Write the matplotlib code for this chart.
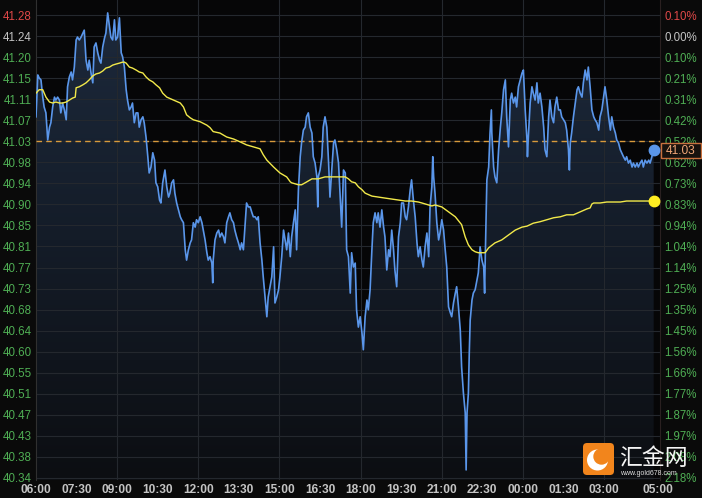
import numpy as np
import matplotlib
matplotlib.use("Agg")
import matplotlib.pyplot as plt
from matplotlib.patches import FancyBboxPatch, Circle, Polygon
from matplotlib.colors import LinearSegmentedColormap

# ---------------- data ----------------
prev_close = 41.24
tick_step = 0.04273

price_labels = ["41.28", "41.24", "41.20", "41.15", "41.11", "41.07", "41.03", "40.98",
                "40.94", "40.90", "40.85", "40.81", "40.77", "40.73", "40.68", "40.64",
                "40.60", "40.55", "40.51", "40.47", "40.43", "40.38", "40.34"]
pct_labels = ["0.10%", "0.00%", "0.10%", "0.21%", "0.31%", "0.42%", "0.52%", "0.62%",
              "0.73%", "0.83%", "0.94%", "1.04%", "1.14%", "1.25%", "1.35%", "1.45%",
              "1.56%", "1.66%", "1.77%", "1.87%", "1.97%", "2.08%", "2.18%"]
time_labels = ["06:00", "07:30", "09:00", "10:30", "12:00", "13:30", "15:00", "16:30",
               "18:00", "19:30", "21:00", "22:30", "00:00", "01:30", "03:00", "05:00"]
time_ticks = [0, 90, 180, 270, 360, 450, 540, 630, 720, 810, 900, 990, 1080, 1170, 1260, 1380]
grid_times = [180, 360, 540, 720, 900, 1080, 1260]

last_price_label = "41.03"
dashed_level = 41.0264

# (minutes after 06:00, price)
price_points = [
    (0, 41.076), (4, 41.161), (7, 41.155), (11, 41.151), (15, 41.116), (18, 41.096), (22, 41.084),
    (26, 41.029), (30, 41.055), (33, 41.064), (37, 41.096), (41, 41.116), (44, 41.110), (48, 41.116),
    (52, 41.110), (55, 41.084), (59, 41.104), (63, 41.090), (67, 41.070), (70, 41.137), (74, 41.157),
    (78, 41.167), (81, 41.151), (85, 41.177), (89, 41.232), (92, 41.238), (96, 41.232), (100, 41.238),
    (104, 41.246), (107, 41.252), (111, 41.191), (115, 41.171), (118, 41.191), (122, 41.165),
    (126, 41.145), (129, 41.218), (133, 41.226), (137, 41.206), (141, 41.191), (144, 41.185),
    (148, 41.218), (152, 41.236), (155, 41.246), (159, 41.287), (163, 41.258), (166, 41.238),
    (170, 41.232), (174, 41.273), (177, 41.232), (181, 41.238), (185, 41.277), (189, 41.206),
    (192, 41.198), (196, 41.177), (200, 41.131), (203, 41.110), (207, 41.090), (211, 41.096),
    (214, 41.104), (218, 41.064), (222, 41.084), (226, 41.084), (229, 41.055), (233, 41.070),
    (237, 41.076), (240, 41.064), (244, 41.035), (248, 40.995), (251, 40.962), (255, 40.974),
    (259, 41.003), (263, 40.988), (266, 40.942), (270, 40.934), (274, 40.907), (277, 40.901),
    (281, 40.942),
    (286, 40.968), (290, 40.934), (294, 40.913), (297, 40.921), (301, 40.942), (305, 40.948),
    (308, 40.921), (312, 40.901), (316, 40.887), (320, 40.873), (323, 40.867), (327, 40.861),
    (331, 40.806), (334, 40.785), (338, 40.806), (342, 40.820), (345, 40.826), (349, 40.861),
    (353, 40.852), (356, 40.867), (360, 40.861), (364, 40.873), (368, 40.861), (371, 40.846),
    (375, 40.826), (379, 40.800), (382, 40.785), (386, 40.792), (390, 40.779), (392, 40.739),
    (393, 40.785), (397, 40.826), (401, 40.840), (405, 40.846), (408, 40.832), (412, 40.840),
    (416, 40.832), (419, 40.820), (423, 40.861), (427, 40.873), (430, 40.881), (434, 40.867),
    (438, 40.861), (441, 40.846), (445, 40.832), (449, 40.820), (453, 40.806), (456, 40.820),
    (460, 40.806), (464, 40.861), (467, 40.901), (471, 40.893), (475, 40.893), (479, 40.881),
    (482, 40.873), (486, 40.873), (490, 40.867), (493, 40.873), (497, 40.820), (501, 40.785),
    (504, 40.751), (508, 40.710), (512, 40.670), (515, 40.710), (519, 40.731), (523, 40.751),
    (527, 40.812), (530, 40.698), (534, 40.710), (538, 40.725), (541, 40.751), (545, 40.792),
    (549, 40.846),
    (556, 40.806), (560, 40.840), (564, 40.792), (567, 40.832), (571, 40.861), (575, 40.887),
    (578, 40.806), (582, 40.928), (586, 40.995), (589, 41.023), (593, 41.049), (597, 41.055),
    (600, 41.076), (604, 41.084), (608, 41.055), (612, 41.043), (615, 40.995), (619, 40.982),
    (623, 40.954), (625, 40.893), (626, 40.954), (630, 40.968), (634, 40.995), (637, 41.055),
    (641, 41.076), (645, 41.055), (649, 40.982), (652, 40.913), (656, 40.968), (660, 41.023),
    (663, 41.029), (667, 41.009), (671, 40.982), (674, 40.928), (678, 40.852), (682, 40.968),
    (686, 40.962), (689, 40.806), (693, 40.792), (697, 40.718), (700, 40.800), (704, 40.771),
    (708, 40.779), (711, 40.684), (715, 40.649), (719, 40.670), (723, 40.637), (726, 40.603),
    (730, 40.670), (734, 40.704), (737, 40.684), (741, 40.725), (745, 40.806), (748, 40.861),
    (752, 40.881), (756, 40.861), (759, 40.881), (763, 40.852), (767, 40.887), (771, 40.852),
    (774, 40.832), (778, 40.765), (782, 40.806), (785, 40.792), (789, 40.846), (793, 40.806),
    (796, 40.765), (800, 40.731), (804, 40.832), (808, 40.861), (811, 40.901), (815, 40.901),
    (819, 40.873), (822, 40.867), (826, 40.893), (830, 40.928), (833, 40.948), (837, 40.907),
    (841, 40.873), (845, 40.820), (848, 40.792),
    (852, 40.812), (856, 40.785), (859, 40.771), (863, 40.812), (867, 40.840), (871, 40.792),
    (874, 40.893), (878, 40.934), (880, 40.995), (882, 40.954), (885, 40.921), (889, 40.861),
    (893, 40.826), (896, 40.840), (900, 40.867), (904, 40.846), (907, 40.812), (911, 40.771),
    (915, 40.690), (919, 40.678), (922, 40.670), (926, 40.698), (930, 40.718), (933, 40.731),
    (937, 40.690), (941, 40.643), (944, 40.568), (948, 40.515), (952, 40.475), (954, 40.359),
    (956, 40.475), (959, 40.515), (961, 40.597), (963, 40.663), (967, 40.704), (970, 40.718),
    (974, 40.725), (978, 40.745), (981, 40.759), (985, 40.812), (989, 40.785), (993, 40.771),
    (995, 40.718), (996, 40.771), (1000, 40.948), (1004, 40.974), (1007, 41.043), (1010, 41.090),
    (1011, 41.043), (1015, 40.974), (1018, 40.954), (1022, 40.942), (1026, 41.009), (1030, 41.055),
    (1033, 41.084), (1037, 41.131), (1041, 41.151), (1044, 41.076), (1048, 41.015), (1052, 41.110),
    (1055, 41.124), (1059, 41.104), (1063, 41.116), (1066, 41.096), (1070, 41.137), (1074, 41.151),
    (1078, 41.165), (1081, 41.171),
    (1085, 41.090), (1089, 41.029), (1090, 40.995), (1092, 41.035), (1096, 41.104), (1100, 41.137),
    (1103, 41.124), (1107, 41.110), (1111, 41.145), (1114, 41.104), (1118, 41.124), (1122, 41.096),
    (1126, 41.055), (1129, 41.009), (1133, 40.995), (1137, 41.076), (1140, 41.110), (1144, 41.076),
    (1148, 41.064), (1151, 41.096), (1155, 41.116), (1159, 41.090), (1163, 41.090), (1166, 41.076),
    (1170, 41.070), (1174, 41.064), (1177, 41.049), (1181, 41.009), (1183, 40.968), (1185, 41.023),
    (1188, 41.043), (1192, 41.076), (1196, 41.104), (1200, 41.131), (1203, 41.137), (1207, 41.124),
    (1211, 41.116), (1214, 41.145), (1218, 41.171), (1222, 41.151), (1225, 41.177), (1229, 41.137),
    (1233, 41.090), (1237, 41.076), (1240, 41.070), (1244, 41.064), (1248, 41.049), (1251, 41.076),
    (1255, 41.090), (1259, 41.116), (1262, 41.137), (1266, 41.110), (1270, 41.076), (1274, 41.049),
    (1277, 41.076), (1281, 41.055), (1285, 41.043), (1288, 41.029), (1292, 41.023), (1296, 41.009),
    (1299, 41.003), (1303, 40.995), (1307, 40.988), (1310, 40.995), (1314, 40.982), (1318, 40.988),
    (1322, 40.974), (1325, 40.982), (1329, 40.974), (1333, 40.982), (1336, 40.974), (1340, 40.982),
    (1344, 40.988), (1347, 40.974), (1351, 40.988), (1355, 40.982), (1359, 40.988), (1362, 40.982),
    (1366, 40.995), (1370, 41.009),
]

avg_points = [
    (0, 41.124), (7, 41.131), (15, 41.131), (22, 41.116), (30, 41.106), (37, 41.104), (44, 41.106),
    (52, 41.104), (59, 41.104), (67, 41.106), (74, 41.110), (81, 41.114), (87, 41.116), (89, 41.135),
    (96, 41.137), (104, 41.141), (111, 41.145), (118, 41.151), (126, 41.159), (133, 41.163),
    (141, 41.165), (148, 41.169), (155, 41.175), (163, 41.177), (170, 41.181), (177, 41.183),
    (185, 41.185), (192, 41.187), (196, 41.187), (200, 41.185), (207, 41.177), (214, 41.175),
    (222, 41.171), (229, 41.167), (237, 41.165), (244, 41.157), (251, 41.151), (259, 41.147),
    (266, 41.141), (274, 41.135), (281, 41.124), (290, 41.116), (305, 41.110), (320, 41.104),
    (327, 41.096), (334, 41.080), (342, 41.074), (349, 41.070), (364, 41.066), (379, 41.059),
    (386, 41.054), (393, 41.046), (408, 41.043), (423, 41.035), (438, 41.031), (453, 41.025),
    (467, 41.019), (482, 41.015), (497, 41.011), (504, 40.999), (512, 40.988), (527, 40.974),
    (541, 40.962), (556, 40.954), (564, 40.944), (567, 40.942), (582, 40.938), (589, 40.938),
    (597, 40.942), (612, 40.950), (626, 40.950), (641, 40.954), (656, 40.954), (671, 40.954),
    (686, 40.954), (693, 40.950), (700, 40.944), (708, 40.942), (715, 40.934), (723, 40.928),
    (730, 40.921), (745, 40.915), (759, 40.913), (774, 40.911), (789, 40.909), (804, 40.907),
    (819, 40.905), (833, 40.905), (848, 40.903), (856, 40.901), (871, 40.897), (878, 40.895),
    (885, 40.897), (900, 40.893), (915, 40.883), (930, 40.873), (944, 40.857), (952, 40.832),
    (959, 40.816), (967, 40.806), (974, 40.802), (981, 40.800), (989, 40.800), (996, 40.800),
    (1004, 40.810), (1018, 40.820), (1033, 40.826), (1048, 40.836), (1063, 40.846), (1078, 40.852),
    (1089, 40.854), (1103, 40.860), (1118, 40.863), (1133, 40.867), (1148, 40.871), (1163, 40.873),
    (1177, 40.877), (1192, 40.877), (1207, 40.883), (1222, 40.889), (1229, 40.891), (1233, 40.899),
    (1237, 40.901), (1251, 40.901), (1266, 40.903), (1281, 40.903), (1296, 40.903), (1310, 40.905),
    (1325, 40.905), (1347, 40.905), (1370, 40.905),
]

# ---------------- styling ----------------
FONT = "Liberation Sans"
GREEN = "#4fae54"
RED = "#e04848"
GRAY = "#c4c4c4"
BLUE = "#5a96ea"
YELLOW = "#f2e94a"
GRID = "#24282e"

W, H = 702, 498
fig = plt.figure(figsize=(W / 100, H / 100), dpi=100)
fig.patch.set_facecolor("#0a0a0a")

L, R, T, B = 36, 660, 0, 480
ax = fig.add_axes([L / W, 1 - B / H, (R - L) / W, (B - T) / H])
ax.set_facecolor("#060607")

ticks = [prev_close + tick_step * (1 - i) for i in range(len(price_labels))]
ylo, yhi = 40.3385, 41.3132
xmax = 1384
ax.set_xlim(0, xmax)
ax.set_ylim(ylo, yhi)

t = np.array([p[0] for p in price_points], dtype=float)
v = np.array([p[1] for p in price_points], dtype=float)
ta = np.array([p[0] for p in avg_points], dtype=float)
va = np.array([p[1] for p in avg_points], dtype=float)

# gradient fill under price line
verts = list(zip(t, v)) + [(t[-1], ylo), (t[0], ylo)]
poly = Polygon(verts, closed=True, facecolor="none", edgecolor="none")
ax.add_patch(poly)
cmap = LinearSegmentedColormap.from_list("g", ["#1d2a3d", "#141c28", "#0c0e12"])
grad = np.linspace(0, 1, 256).reshape(-1, 1)
im = ax.imshow(grad, extent=[0, xmax, ylo, yhi], aspect="auto", cmap=cmap,
               origin="upper", zorder=1, interpolation="bilinear")
im.set_clip_path(poly)

# grid
for y in ticks:
    ax.axhline(y, color=GRID, lw=0.8, zorder=2)
for x in grid_times:
    ax.axvline(x, color=GRID, lw=0.8, zorder=2)

ax.axhline(dashed_level, color="#d89a3c", lw=1.0, ls=(0, (4, 3)), zorder=3)

ax.plot(t, v, color=BLUE, lw=1.2, zorder=4, solid_joinstyle="round")
ax.plot(ta, va, color=YELLOW, lw=1.0, zorder=5)
ax.plot(t[-1], v[-1], "o", ms=7.5, color=BLUE, zorder=6)
ax.plot(ta[-1], va[-1], "o", ms=7.5, color="#ffee22", zorder=6)

for s in ["top", "bottom"]:
    ax.spines[s].set_visible(False)
ax.spines["left"].set_color("#303030")
ax.spines["right"].set_color("#2a2020")

ax.set_yticks(ticks)
ax.set_yticklabels(price_labels, fontsize=8.3, fontfamily=FONT)
ax.tick_params(axis="y", length=0, pad=3)
for i, lab in enumerate(ax.get_yticklabels()):
    lab.set_color(RED if i == 0 else (GRAY if i == 1 else GREEN))

ax.set_xticks(time_ticks)
ax.set_xticklabels(time_labels, fontsize=8.6, fontfamily=FONT, fontweight="bold", color=GRAY)
ax.tick_params(axis="x", length=0, pad=3)

ax2 = ax.twinx()
ax2.set_ylim(ylo, yhi)
ax2.set_yticks(ticks)
ax2.set_yticklabels(pct_labels, fontsize=8.3, fontfamily=FONT)
ax2.tick_params(axis="y", length=0, pad=3)
for i, lab in enumerate(ax2.get_yticklabels()):
    lab.set_color(RED if i == 0 else (GRAY if i == 1 else GREEN))
for s in ax2.spines.values():
    s.set_visible(False)

# overlay for price box and logo (figure pixel coordinates)
ov = fig.add_axes([0, 0, 1, 1])
ov.set_xlim(0, W)
ov.set_ylim(H, 0)
ov.axis("off")
ov.patch.set_alpha(0)

ov.add_patch(FancyBboxPatch((660.5, 143), 40.5, 15, boxstyle="square,pad=0",
                            fc="#17120e", ec="#c9713e", lw=1.0, zorder=5))
ov.text(681, 150.8, last_price_label, ha="center", va="center", fontsize=8.6,
        fontfamily=FONT, color="#f2a878", zorder=6)

# logo
ov.add_patch(FancyBboxPatch((583, 443), 31, 32, boxstyle="round,pad=0,rounding_size=4",
                            fc="#f2851c", ec="none", zorder=7))
ov.add_patch(Circle((597.5, 460), 10.5, fc="white", ec="none", zorder=8))
ov.add_patch(Circle((601.5, 456.5), 8.2, fc="#f2851c", ec="none", zorder=9))
ov.text(619, 458, "汇金网", ha="left", va="center", fontsize=16.5,
        fontfamily=["Noto Sans CJK SC", "DejaVu Sans"], color="#f4f4f4", zorder=8)
ov.text(620, 473, "www.gold678.com", ha="left", va="center", fontsize=5,
        fontfamily=FONT, color="#dddddd", zorder=8)

fig.savefig("out.png", dpi=100, facecolor=fig.get_facecolor())
